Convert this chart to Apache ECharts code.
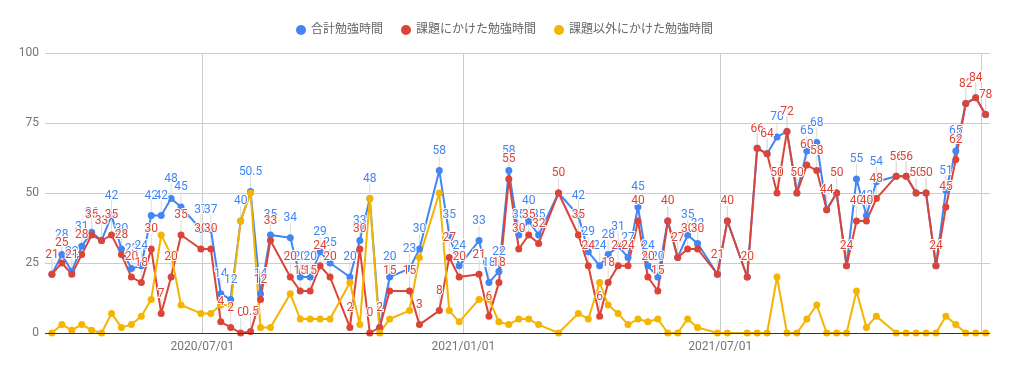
<!DOCTYPE html>
<html>
<head>
<meta charset="utf-8">
<script src="https://cdn.jsdelivr.net/npm/echarts@6/dist/echarts.min.js"></script>
<style>html,body{margin:0;padding:0;background:#fff}#c{width:1009px;height:373px}</style>
</head>
<body>
<div id="c"></div>
<script>
const dates = ['2020-03-17','2020-03-24','2020-03-31','2020-04-07','2020-04-14','2020-04-21','2020-04-28','2020-05-05','2020-05-12','2020-05-19',
'2020-05-26','2020-06-02','2020-06-09','2020-06-16','2020-06-30','2020-07-07','2020-07-14','2020-07-21','2020-07-28','2020-08-04',
'2020-08-11','2020-08-18','2020-09-01','2020-09-08','2020-09-15','2020-09-22','2020-09-29','2020-10-13','2020-10-20','2020-10-27',
'2020-11-03','2020-11-10','2020-11-24','2020-12-01','2020-12-15','2020-12-22','2020-12-29','2021-01-12','2021-01-19','2021-01-26',
'2021-02-02','2021-02-09','2021-02-16','2021-02-23','2021-03-09','2021-03-23','2021-03-30','2021-04-07','2021-04-13','2021-04-20',
'2021-04-27','2021-05-04','2021-05-11','2021-05-18','2021-05-25','2021-06-01','2021-06-08','2021-06-15','2021-06-29','2021-07-06',
'2021-07-20','2021-07-27','2021-08-03','2021-08-10','2021-08-17','2021-08-24','2021-08-31','2021-09-07','2021-09-14','2021-09-21',
'2021-09-28','2021-10-05','2021-10-12','2021-10-19','2021-11-02','2021-11-09','2021-11-16','2021-11-23','2021-11-30','2021-12-07',
'2021-12-14','2021-12-21','2021-12-28','2022-01-04'];

const totalHours = [21,28,22,31,36,33,42,30,23,24,
42,42,48,45,37,37,14,12,40,50.5,
14,35,34,20,20,29,25,20,33,48,
2,20,23,30,58,35,24,33,18,22,
58,35,40,35,50,42,29,24,28,31,
27,45,24,20,40,27,35,32,21,40,
20,66,64,70,72,50,65,68,44,50,
24,55,42,54,56,56,50,50,24,51,
65,82,84,78];

const assignmentHours = [21,25,21,28,35,33,35,28,20,18,
30,7,20,35,30,30,4,2,0,0.5,
12,33,20,15,15,24,20,2,30,0,
2,15,15,3,8,27,20,21,6,18,
55,30,35,32,50,35,24,6,18,24,
24,40,20,15,40,27,30,30,21,40,
20,66,64,50,72,50,60,58,44,50,
24,40,40,48,56,56,50,50,24,45,
62,82,84,78];

const otherHours = [0,3,1,3,1,0,7,2,3,6,
12,35,28,10,7,7,10,10,40,50,
2,2,14,5,5,5,5,18,3,48,
0,5,8,27,50,8,4,12,12,4,
3,5,5,3,0,7,5,18,10,7,
3,5,4,5,0,0,5,2,0,0,
0,0,0,20,0,0,5,10,0,0,
0,15,2,6,0,0,0,0,0,6,
3,0,0,0];

const seriesNames = ['合計勉強時間', '課題にかけた勉強時間', '課題以外にかけた勉強時間'];
const seriesColors = ['#4285F4', '#DB4437', '#F4B400'];
const xLabelDates = ['2020-07-01', '2021-01-01', '2021-07-01'];
const xGridDates = ['2020-07-01', '2021-01-01', '2021-07-01', '2022-01-01'];
const xRange = ['2020-03-12T03:00', '2022-01-07T02:00'];
const yTicks = [0, 25, 50, 75, 100];

function toTs(s) {
  const [d, t] = s.split('T');
  const [y, m, dd] = d.split('-').map(Number);
  let h = 0;
  if (t) h = Number(t.split(':')[0]);
  return new Date(y, m - 1, dd, h).getTime();
}

const FONT = 'Roboto, "Noto Sans CJK JP", sans-serif';

function makeSeries(i, values, withLabels) {
  return {
    name: seriesNames[i],
    type: 'line',
    z: 3,
    data: dates.map((d, k) => [toTs(d), values[k]]),
    symbol: 'circle',
    symbolSize: 7,
    showSymbol: true,
    showAllSymbol: true,
    lineStyle: { width: 2, color: seriesColors[i] },
    itemStyle: { color: seriesColors[i] },
    label: withLabels ? {
      show: true,
      position: 'top',
      distance: 10,
      color: seriesColors[i],
      fontFamily: FONT,
      fontSize: 12,
      textBorderColor: '#fff',
      textBorderWidth: 2,
      formatter: p => String(p.value[1])
    } : { show: false },
    emphasis: { disabled: true }
  };
}

// annotation stems (thin grey lines from each labelled point up to its label)
function makeStems(values) {
  return {
    type: 'custom',
    silent: true,
    z: 2,
    data: dates.map((d, k) => [toTs(d), values[k]]),
    renderItem: function (params, api) {
      const p = api.coord([api.value(0), api.value(1)]);
      return {
        type: 'line',
        shape: { x1: p[0], y1: p[1], x2: p[0], y2: p[1] - 15 },
        style: { stroke: '#dcdcdc', lineWidth: 1 }
      };
    }
  };
}

const chart = echarts.init(document.getElementById('c'));
chart.setOption({
  animation: false,
  backgroundColor: '#fff',
  legend: {
    top: 19,
    left: 'center',
    icon: 'circle',
    itemWidth: 10,
    itemHeight: 10,
    itemGap: 18,
    data: seriesNames,
    textStyle: { color: '#666', fontSize: 12, fontFamily: FONT }
  },
  grid: { left: 45, right: 19, top: 53, bottom: 40, containLabel: false },
  xAxis: {
    type: 'time',
    min: toTs(xRange[0]),
    max: toTs(xRange[1]),
    axisLine: { show: false },
    axisTick: { show: false, customValues: xGridDates.map(toTs) },
    splitLine: { show: true, lineStyle: { color: '#cccccc', width: 1 } },
    axisLabel: {
      customValues: xLabelDates.map(toTs),
      formatter: '{yyyy}/{MM}/{dd}',
      color: '#757575',
      fontSize: 12,
      fontFamily: FONT,
      margin: 8,
      hideOverlap: false
    }
  },
  yAxis: {
    type: 'value',
    min: yTicks[0],
    max: yTicks[yTicks.length - 1],
    interval: 25,
    axisLine: { show: false },
    axisTick: { show: false },
    splitLine: { show: true, lineStyle: { color: '#cccccc', width: 1 } },
    axisLabel: { color: '#757575', fontSize: 12, fontFamily: FONT, margin: 6 }
  },
  series: [
    makeStems(totalHours),
    makeStems(assignmentHours),
    makeSeries(0, totalHours, true),
    makeSeries(1, assignmentHours, true),
    makeSeries(2, otherHours, false),
    {
      type: 'line',
      silent: true,
      data: [],
      markLine: {
        silent: true,
        symbol: 'none',
        label: { show: false },
        lineStyle: { color: '#333', width: 1, type: 'solid' },
        data: [{ yAxis: yTicks[0] }]
      }
    }
  ]
});
</script>
</body>
</html>
